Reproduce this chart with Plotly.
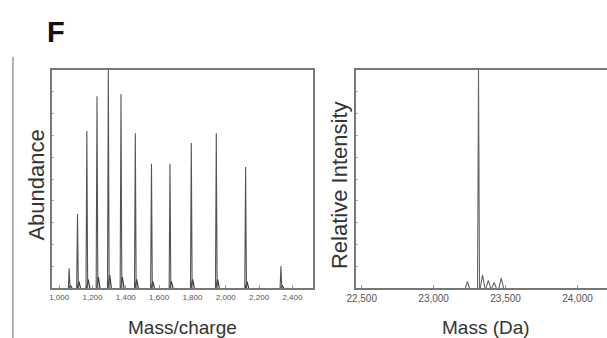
import plotly.graph_objects as go

# ---- data ----
# Left panel: charge-state envelope, m/z and relative abundance
mz_peaks = [1060, 1110, 1166, 1227, 1295, 1371, 1457, 1554, 1665, 1793, 1943, 2119, 2331]
mz_heights = [0.09, 0.34, 0.72, 0.88, 1.00, 0.89, 0.71, 0.57, 0.57, 0.665, 0.71, 0.555, 0.10]
mz_adduct = [0.01, 0.03, 0.04, 0.05, 0.06, 0.05, 0.04, 0.03, 0.03, 0.04, 0.04, 0.03, 0.01]
mz_ticks = [1000, 1200, 1400, 1600, 1800, 2000, 2200, 2400]
mz_ticktext = ["1,000", "1,200", "1,400", "1,600", "1,800", "2,000", "2,200", "2,400"]

# Right panel: deconvoluted mass spectrum
mass_peaks = [23235, 23312, 23340, 23380, 23420, 23470]
mass_heights = [0.03, 1.00, 0.06, 0.035, 0.025, 0.045]
mass_ticks = [22500, 23000, 23500, 24000]
mass_ticktext = ["22,500", "23,000", "23,500", "24,000"]


def stick_trace(centers, heights, halfwidth):
    xs, ys = [], []
    for c, h in zip(centers, heights):
        xs += [c - halfwidth, c, c + halfwidth, None]
        ys += [0, h, 0, None]
    return xs, ys


W, H = 607, 338
fig = go.Figure()

# left spectrum: main peaks + adduct humps
lx, ly = stick_trace(mz_peaks, mz_heights, 5)
ax_, ay_ = stick_trace([c + 8 for c in mz_peaks], mz_adduct, 10)
fig.add_trace(go.Scatter(x=ax_, y=ay_, mode="lines", line=dict(color="#333", width=1.2),
                         xaxis="x", yaxis="y", showlegend=False, hoverinfo="skip"))
fig.add_trace(go.Scatter(x=lx, y=ly, mode="lines", line=dict(color="#555", width=1.1),
                         xaxis="x", yaxis="y", showlegend=False))

# right spectrum
rx, ry = stick_trace(mass_peaks[:1], mass_heights[:1], 14)
rx2, ry2 = stick_trace(mass_peaks[1:2], mass_heights[1:2], 7)
rx3, ry3 = stick_trace(mass_peaks[2:], mass_heights[2:], 16)
fig.add_trace(go.Scatter(x=rx + rx2 + rx3, y=ry + ry2 + ry3, mode="lines",
                         line=dict(color="#666", width=1.1),
                         xaxis="x2", yaxis="y2", showlegend=False))

frame = "#777"
tickfont_l = dict(family="Liberation Sans, Arial", size=8, color="#555")
tickfont_r = dict(family="Liberation Sans, Arial", size=10, color="#555")

ydom = [50 / H, 268 / H]
fig.update_layout(
    width=W, height=H,
    margin=dict(l=0, r=0, t=0, b=0),
    paper_bgcolor="white", plot_bgcolor="white",
    xaxis=dict(domain=[44 / W, 309 / W], range=[959, 2526], tickvals=mz_ticks, ticktext=mz_ticktext,
               tickfont=tickfont_l, showline=True, linecolor=frame, linewidth=2, mirror=True,
               ticks="inside", ticklen=3, tickcolor="#999", showgrid=False, zeroline=False,
               anchor="y"),
    yaxis=dict(domain=ydom, range=[0, 1.0], showticklabels=False, showline=True, linecolor=frame,
               linewidth=2, mirror=True, ticks="inside", ticklen=2, tickcolor="#aaa", dtick=0.1,
               showgrid=False, zeroline=False, anchor="x"),
    xaxis2=dict(domain=[352 / W, 1.0], range=[22459, 24205], tickvals=mass_ticks, ticktext=mass_ticktext,
                tickfont=tickfont_r, showline=True, linecolor=frame, linewidth=2, mirror=True,
                ticks="inside", ticklen=3, tickcolor="#999", showgrid=False, zeroline=False,
                anchor="y2"),
    yaxis2=dict(domain=ydom, range=[0, 1.0], showticklabels=False, showline=True, linecolor=frame,
                linewidth=2, mirror=False, ticks="inside", ticklen=2, tickcolor="#aaa", dtick=0.1,
                showgrid=False, zeroline=False, anchor="x2"),
    font=dict(family="Liberation Sans, Arial"),
)


def ann(text, px, py, size, angle=0, bold=False, color="#333"):
    fig.add_annotation(text=f"<b>{text}</b>" if bold else text, x=px / W, y=1 - py / H,
                       xref="paper", yref="paper", showarrow=False, textangle=angle,
                       xanchor="center", yanchor="middle",
                       font=dict(family="Liberation Sans, Arial", size=size, color=color))


ann("F", 48, 32, 29, bold=True, color="#111")
ann("Abundance", 27, 185, 22, angle=-90)
ann("Relative Intensity", 335, 185, 22, angle=-90)
ann("Mass/charge", 176, 327, 19)
ann("Mass (Da)", 484, 327, 19)

# thin divider line at far left
fig.add_shape(type="line", xref="paper", yref="paper", x0=4 / W, x1=4 / W, y0=0, y1=1 - 57 / H,
              line=dict(color="#999", width=1.5))

css_fix = ("var s=document.createElement('style');"
           "s.textContent='html,body{margin:0!important;padding:0!important;overflow:hidden;}';"
           "document.head.appendChild(s);")
fig.write_html("out.html", config={"displayModeBar": False}, post_script=css_fix)
